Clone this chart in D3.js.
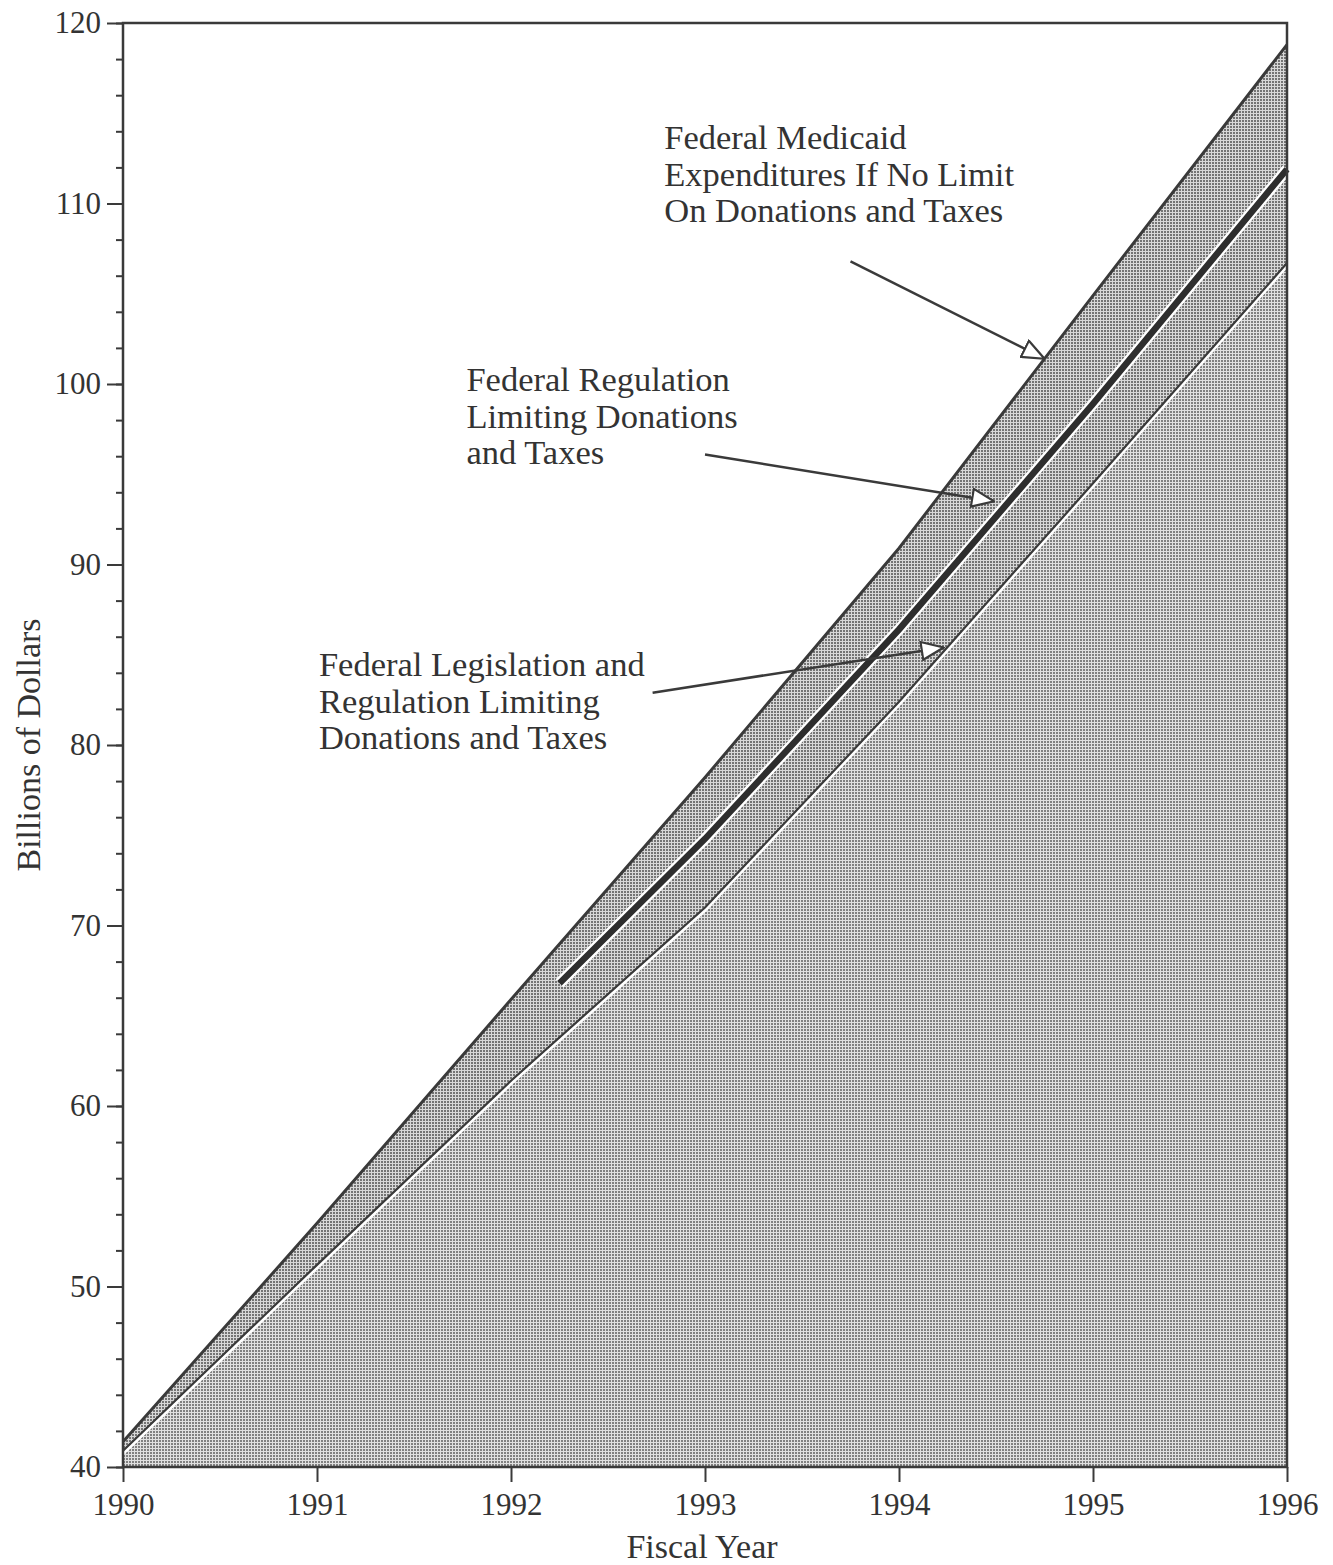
<!DOCTYPE html>
<html>
<head>
<meta charset="utf-8">
<script src="https://cdn.jsdelivr.net/npm/d3@7"></script>
<style>
  html, body { margin: 0; padding: 0; background: #ffffff; }
  svg { display: block; }
</style>
</head>
<body>
<svg id="chart" width="1333" height="1565"></svg>
<script>
// ---- data ----
const years = [1990, 1991, 1992, 1993, 1994, 1995, 1996];
const noLimit = [41.4, 53.5, 65.9, 78.2, 90.9, 104.9, 118.8];          // Federal Medicaid expenditures if no limit
const legislationAndRegulation = [40.9, 51.2, 61.4, 71.0, 82.4, 94.5, 106.7];
const regulationYears = [1992.25, 1993, 1994, 1995, 1996];
const regulationOnly = [66.8, 74.8, 86.4, 98.9, 111.9];

const xTicks = [1990, 1991, 1992, 1993, 1994, 1995, 1996];
const yMajorTicks = [40, 50, 60, 70, 80, 90, 100, 110, 120];
const yMinorTicks = d3.range(40, 121, 2);

const annotationLines = [
  ["Federal Medicaid", "Expenditures If No Limit", "On Donations and Taxes"],
  ["Federal Regulation", "Limiting Donations", "and Taxes"],
  ["Federal Legislation and", "Regulation Limiting", "Donations and Taxes"]
];
// text anchor (year, value of first baseline)
const annotationAnchorYear = [1992.79, 1991.77, 1991.01];
const annotationAnchorValue = [113.0, 99.6, 83.8];
// arrows: start (year,value) -> tip (year,value)
const arrowFromYear = [1993.75, 1993.0, 1992.73];
const arrowFromValue = [106.8, 96.1, 82.9];
const arrowToYear = [1994.75, 1994.49, 1994.23];
const arrowToValue = [101.4, 93.5, 85.4];

// ---- layout ----
const svg = d3.select("#chart");
const mLeft = 123, mRight = 1287, mTop = 23, mBottom = 1467;
const x = d3.scaleLinear().domain([1990, 1996]).range([mLeft, mRight]);
const y = d3.scaleLinear().domain([40, 120]).range([mBottom, mTop]);
const ink = "#3a3a3a";
const fontFam = "'Liberation Serif', 'Times New Roman', serif";

const defs = svg.append("defs");
function dotPattern(id, bg, dot, s) {
  const p = defs.append("pattern").attr("id", id).attr("patternUnits", "userSpaceOnUse")
    .attr("width", 3).attr("height", 3);
  p.append("rect").attr("width", 3).attr("height", 3).attr("fill", bg);
  p.append("rect").attr("x", 0).attr("y", 0).attr("width", s).attr("height", s).attr("fill", dot);
}
dotPattern("bandPat", "#d8d8d8", "#747474", 2);
dotPattern("lowPat", "#e0e0e0", "#808080", 2);

const mainData = years.map((yr, i) => ({ yr, hi: noLimit[i], low: legislationAndRegulation[i] }));
const regData = regulationYears.map((yr, i) => ({ yr, v: regulationOnly[i] }));

// lower area
svg.append("path").datum(mainData)
  .attr("d", d3.area().x(d => x(d.yr)).y0(y(40)).y1(d => y(d.low)))
  .attr("fill", "url(#lowPat)");
// band
svg.append("path").datum(mainData)
  .attr("d", d3.area().x(d => x(d.yr)).y0(d => y(d.low)).y1(d => y(d.hi)))
  .attr("fill", "url(#bandPat)");

// lower line: dark line with white edge below
const lowLine = d3.line().x(d => x(d.yr)).y(d => y(d.low));
svg.append("path").datum(mainData).attr("d", lowLine)
  .attr("fill", "none").attr("stroke", "#ffffff").attr("stroke-width", 3)
  .attr("transform", "translate(0,3)");
svg.append("path").datum(mainData).attr("d", lowLine)
  .attr("fill", "none").attr("stroke", ink).attr("stroke-width", 2.2);

// regulation thick line with white borders
const regLine = d3.line().x(d => x(d.yr)).y(d => y(d.v));
svg.append("path").datum(regData).attr("d", regLine)
  .attr("fill", "none").attr("stroke", "#ffffff").attr("stroke-width", 11);
svg.append("path").datum(regData).attr("d", regLine)
  .attr("fill", "none").attr("stroke", "#2e2e2e").attr("stroke-width", 6.5);

// top line
svg.append("path").datum(mainData)
  .attr("d", d3.line().x(d => x(d.yr)).y(d => y(d.hi)))
  .attr("fill", "none").attr("stroke", ink).attr("stroke-width", 3);

// ---- axes ----
const yAxisMinor = d3.axisLeft(y).tickValues(yMinorTicks).tickSize(7).tickFormat("");
svg.append("g").attr("transform", `translate(${mLeft},0)`).call(yAxisMinor)
  .call(g => g.select(".domain").remove())
  .call(g => g.selectAll("line").attr("stroke", ink).attr("stroke-width", 2));
const yAxis = d3.axisLeft(y).tickValues(yMajorTicks).tickSize(16).tickPadding(6).tickFormat(d3.format("d"));
svg.append("g").attr("transform", `translate(${mLeft},0)`).call(yAxis)
  .call(g => g.select(".domain").remove())
  .call(g => g.selectAll("line").attr("stroke", ink).attr("stroke-width", 2))
  .call(g => g.selectAll("text").attr("font-family", fontFam).attr("font-size", 31).attr("fill", "#333"));

const xAxis = d3.axisBottom(x).tickValues(xTicks).tickSize(15).tickPadding(11).tickFormat(d3.format("d"));
svg.append("g").attr("transform", `translate(0,${mBottom})`).call(xAxis)
  .call(g => g.select(".domain").remove())
  .call(g => g.selectAll("line").attr("stroke", ink).attr("stroke-width", 2))
  .call(g => g.selectAll("text").attr("font-family", fontFam).attr("font-size", 31).attr("fill", "#333"));

// frame
svg.append("rect").attr("x", mLeft).attr("y", mTop).attr("width", mRight - mLeft).attr("height", mBottom - mTop)
  .attr("fill", "none").attr("stroke", ink).attr("stroke-width", 2.5);

// axis titles
svg.append("text").attr("transform", `translate(40,745) rotate(-90)`)
  .attr("text-anchor", "middle").attr("font-family", fontFam).attr("font-size", 34).attr("fill", "#333")
  .text("Billions of Dollars");
svg.append("text").attr("x", (mLeft + mRight) / 2 - 3).attr("y", 1558)
  .attr("text-anchor", "middle").attr("font-family", fontFam).attr("font-size", 34).attr("fill", "#333")
  .text("Fiscal Year");

// ---- annotations ----
defs.append("marker").attr("id", "openArrow").attr("viewBox", "0 0 24 20")
  .attr("refX", 23).attr("refY", 10).attr("markerWidth", 24).attr("markerHeight", 20)
  .attr("markerUnits", "userSpaceOnUse").attr("orient", "auto")
  .append("path").attr("d", "M1,1 L23,10 L1,19 Z")
  .attr("fill", "#ffffff").attr("stroke", ink).attr("stroke-width", 2.2).attr("stroke-linejoin", "miter");

annotationLines.forEach((lines, i) => {
  const t = svg.append("text").attr("font-family", fontFam).attr("font-size", 34.5).attr("fill", "#333");
  lines.forEach((ln, j) => {
    t.append("tspan").attr("x", x(annotationAnchorYear[i])).attr("y", y(annotationAnchorValue[i]) + j * 36.5).text(ln);
  });
  svg.append("line")
    .attr("x1", x(arrowFromYear[i])).attr("y1", y(arrowFromValue[i]))
    .attr("x2", x(arrowToYear[i])).attr("y2", y(arrowToValue[i]))
    .attr("stroke", ink).attr("stroke-width", 2.5)
    .attr("marker-end", "url(#openArrow)");
});
</script>
</body>
</html>
